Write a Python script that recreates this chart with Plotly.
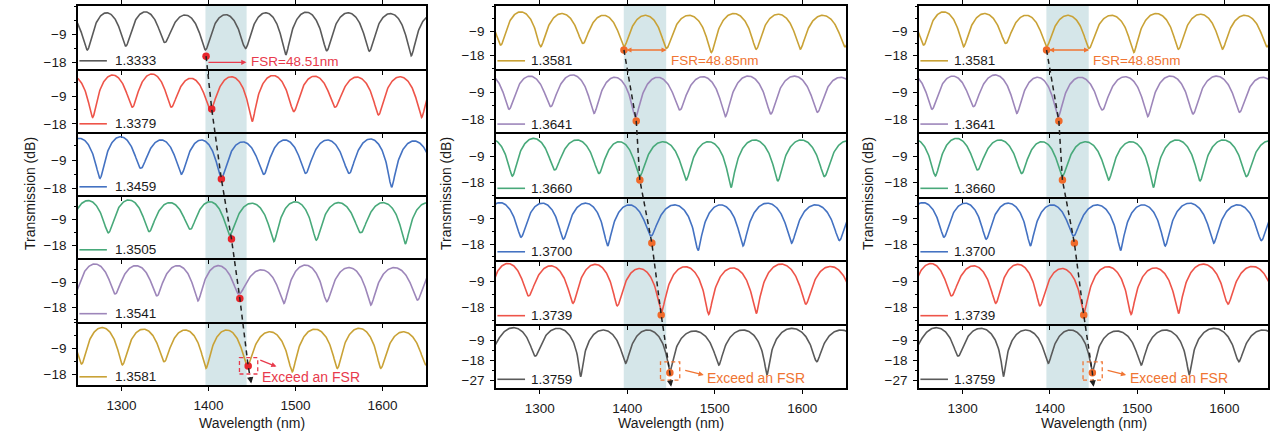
import numpy as np
import plotly.graph_objects as go

W, H = 1280, 444
FONT = "Liberation Sans, Arial, Helvetica, sans-serif"

# ---------------- data ----------------
wl_range = [1250, 1650]
x_ticks = [1300, 1400, 1500, 1600]

# Panel 1 (left)
p1_labels = ["1.3333", "1.3379", "1.3459", "1.3505", "1.3541", "1.3581"]
p1_dip_wl = [
    [1214, 1260.8, 1305, 1349.6, 1396.5, 1442.6, 1488.8, 1536, 1584.9, 1633, 1680],
    [1220, 1266.9, 1312.6, 1357.2, 1402.2, 1450.2, 1498.2, 1545.5, 1595.4, 1645, 1693],
    [1228, 1275.4, 1322.2, 1368.7, 1414.8, 1463.6, 1511.7, 1561.6, 1610.4, 1662],
    [1238, 1285, 1331.8, 1379.1, 1424.1, 1475.2, 1524, 1575, 1626.2, 1676],
    [1246, 1292.7, 1340.7, 1387.9, 1434.8, 1486.7, 1535.9, 1586.6, 1640.4, 1690],
    [1207, 1254.2, 1301.1, 1349.1, 1397.2, 1444.4, 1496.3, 1548.2, 1598.1, 1650, 1700],
]
p1_dip_db = [
    [-14, -14.0, -12.75, -11.6, -14.0, -13.5, -15.6, -14.25, -14.4, -15.9, -14],
    [-14, -15.9, -12.6, -12.6, -13.5, -17.25, -14.0, -12.6, -15.1, -15.9, -14],
    [-14, -14.75, -11.6, -13.5, -14.75, -13.5, -13.2, -13.2, -17.6, -14],
    [-14, -13.6, -13.2, -12.4, -14.4, -16.6, -16.1, -13.6, -17.4, -14],
    [-13.5, -13.2, -13.9, -15.7, -13.2, -16.6, -16.0, -17.2, -15.4, -14],
    [-14, -14.5, -14.8, -13.7, -16.0, -15.4, -17.2, -16.0, -16.0, -14.8, -14],
]
p1_peak_db = [
    [-2.5, -2.0, -1.7, -2.7, -2.6, -2.0, -1.8, -2.0, -2.25, -2.8],
    [-2.6, -2.25, -1.9, -3.3, -2.8, -2.4, -2.6, -2.9, -2.8, -2.5],
    [-2.2, -1.7, -2.7, -2.7, -3.3, -2.7, -2.7, -2.4, -3.0],
    [-2.6, -2.4, -3.3, -3.0, -3.5, -3.0, -3.3, -3.3, -3.4],
    [-2.4, -3.0, -3.0, -3.0, -4.5, -2.8, -3.7, -3.7, -3.5],
    [-2.5, -1.75, -2.3, -2.6, -2.6, -3.2, -2.3, -2.0, -3.2, -2.5],
]
p1_dot_wl = [1397.2, 1403.7, 1414.8, 1426.4, 1436.0, 1445.6]
p1_dot_db = [-16.0, -13.2, -15.0, -15.7, -14.8, -15.2]
p1_fsr_text = "FSR=48.51nm"

# Panels 2 and 3 (same spectra)
p2_labels = ["1.3581", "1.3641", "1.3660", "1.3700", "1.3739", "1.3759"]
p2_dip_wl = [
    [1207, 1255.5, 1301.1, 1349.4, 1396.2, 1444.9, 1496.2, 1547.5, 1597.7, 1649, 1700],
    [1218, 1265, 1312.5, 1362, 1409.5, 1460.1, 1512.2, 1564.2, 1617.5, 1670],
    [1221, 1268.8, 1317.1, 1367.7, 1414.1, 1467.3, 1518.6, 1572.2, 1625.5, 1678],
    [1230, 1278.7, 1327, 1377.6, 1427, 1481, 1532.3, 1587.8, 1642.6, 1697],
    [1240, 1287.1, 1338, 1388.6, 1439.2, 1493.1, 1547.5, 1604.2, 1660],
    [1245, 1294.7, 1346.8, 1398.1, 1448.7, 1504.6, 1559.7, 1616.7, 1672],
]
p2_dip_db = [
    [-14, -14.1, -14.7, -13.5, -14.7, -15.3, -16.8, -15.6, -15.6, -14.7, -14],
    [-14, -14.6, -13.7, -16.0, -17.3, -14.85, -17.1, -16.2, -15.6, -14],
    [-14, -15.7, -13.6, -14.8, -15.9, -17.1, -19.7, -17.4, -15.9, -14],
    [-14, -15.5, -16.2, -18.6, -15.0, -20.25, -18.6, -17.6, -16.7, -15],
    [-14, -14.1, -16.6, -17.5, -19.5, -20.4, -20.1, -16.9, -15],
    [-13, -16.2, -25.5, -19.5, -23.25, -20.25, -24.75, -18.75, -16],
]
p2_peak_db = [
    [-2.5, -1.95, -2.55, -3.2, -3.2, -3.2, -2.55, -2.8, -3.2, -2.5],
    [-3.0, -3.4, -3.0, -3.8, -3.8, -3.6, -3.4, -3.4, -3.8],
    [-3.0, -2.65, -3.2, -3.8, -3.8, -3.8, -3.2, -3.2, -3.5],
    [-3.2, -3.4, -3.4, -4.0, -4.0, -4.0, -3.4, -4.0, -3.6],
    [-3.0, -3.8, -3.3, -4.7, -4.1, -4.5, -3.2, -4.0],
    [-3.45, -3.75, -4.5, -4.5, -4.95, -4.5, -3.75, -4.5],
]
p2_dot_wl = [1396.2, 1410.3, 1414.4, 1428.1, 1438.8, 1448.7]
p2_dot_db = [-15.9, -18.6, -17.1, -17.6, -20.6, -23.7]
p2_fsr_text = "FSR=48.85nm"

exceed_text = "Exceed an FSR"
band_wl = [[1396.5, 1443.8], [1396, 1444.5], [1396, 1444.5]]

# ---------------- styles / layout geometry ----------------
GRAY, RED, BLUE, GREEN, PURPLE, GOLD = "#5a5a5a", "#ee5449", "#4472c2", "#48a97a", "#9d86ba", "#c9a236"
p1_colors = [GRAY, RED, BLUE, GREEN, PURPLE, GOLD]
p2_colors = [GOLD, PURPLE, GREEN, BLUE, RED, GRAY]
ANN1, DOT1 = "#e83a4c", "#e8262c"
ANN2, DOT2 = "#f07533", "#f06a2a"
BAND = "#d5e6e9"

panel_x = [(78, 426), (496, 846), (919, 1268)]
bounds1 = [6, 69, 132, 195, 258, 322, 385]
bounds2 = [6, 69, 132.3, 196.7, 260, 324, 388.3]
ranges1 = [[-20.15, 0.2], [-20.6, -0.3], [-20.0, -0.2], [-22.2, -0.7], [-23.3, -0.25], [-21.85, 0.2]]
ranges2 = [[-22.85, 0.2], [-22.4, -1.0], [-22.85, -0.55], [-23.6, -1.1], [-23.7, -1.8], [-30.7, -1.8]]
ytitle_x = [30, 446, 868]

panels = [
    dict(labels=p1_labels, dwl=p1_dip_wl, ddb=p1_dip_db, pdb=p1_peak_db, colors=p1_colors,
         dot_wl=p1_dot_wl, dot_db=p1_dot_db, fsr=p1_fsr_text, ann=ANN1, dot=DOT1,
         bounds=bounds1, ranges=ranges1, both_arrows=False, leg_text_x=0.1),
    dict(labels=p2_labels, dwl=p2_dip_wl, ddb=p2_dip_db, pdb=p2_peak_db, colors=p2_colors,
         dot_wl=p2_dot_wl, dot_db=p2_dot_db, fsr=p2_fsr_text, ann=ANN2, dot=DOT2,
         bounds=bounds2, ranges=ranges2, both_arrows=True, leg_text_x=0.094),
    dict(labels=p2_labels, dwl=p2_dip_wl, ddb=p2_dip_db, pdb=p2_peak_db, colors=p2_colors,
         dot_wl=p2_dot_wl, dot_db=p2_dot_db, fsr=p2_fsr_text, ann=ANN2, dot=DOT2,
         bounds=bounds2, ranges=ranges2, both_arrows=True, leg_text_x=0.094),
]


def spectrum(dwl, ddb, pdb, n=80):
    xs, ys = [], []
    for i in range(len(dwl) - 1):
        t = np.linspace(0, 1, n, endpoint=False)
        base = ddb[i] * (1 - t) + ddb[i + 1] * t
        depth = pdb[i] - base
        r = 10 ** (-depth / 10)
        v = (1 - r) / (1 + r)
        phi = 2 * np.pi * (t - 0.5)
        y = pdb[i] + 10 * np.log10((1 + v * np.cos(phi)) / (1 + v))
        xs.append(dwl[i] + t * (dwl[i + 1] - dwl[i]))
        ys.append(y)
    xs.append([dwl[-1]])
    ys.append([ddb[-1]])
    return np.concatenate(xs), np.concatenate(ys)


def paper_y(top, bot, rng, v):
    frac = (v - rng[0]) / (rng[1] - rng[0])
    return 1 - (bot - frac * (bot - top)) / H


def ax_id(letter, i):
    return letter if i == 1 else f"{letter}{i}"


fig = go.Figure()
layout = dict(width=W, height=H, margin=dict(l=0, r=0, t=0, b=0),
              paper_bgcolor="white", plot_bgcolor="rgba(0,0,0,0)",
              showlegend=False, font=dict(family=FONT, size=13, color="#1a1a1a"))
shapes, annotations = [], []

for p, P in enumerate(panels):
    xl, xr = panel_x[p]
    b = P["bounds"]
    for k in range(6):
        idx = p * 6 + k + 1
        xa, ya = ax_id("x", idx), ax_id("y", idx)
        top, bot = b[k], b[k + 1]
        rng = P["ranges"][k]
        xs, ys = spectrum(P["dwl"][k], P["ddb"][k], P["pdb"][k])
        fig.add_trace(go.Scatter(x=xs, y=ys, mode="lines", xaxis=xa, yaxis=ya,
                                 line=dict(color=P["colors"][k], width=1.6), hoverinfo="skip"))
        fig.add_trace(go.Scatter(x=[P["dot_wl"][k]], y=[P["dot_db"][k]], mode="markers",
                                 xaxis=xa, yaxis=ya, marker=dict(color=P["dot"], size=7.5),
                                 hoverinfo="skip"))
        last = k == 5
        layout[f"xaxis{idx}"] = dict(
            domain=[xl / W, xr / W], range=wl_range, anchor=ya, tickvals=x_ticks,
            showticklabels=last, ticks="outside", ticklen=4, tickwidth=1.2, tickcolor="black",
            showline=True, linecolor="black", linewidth=1.6,
            mirror=("ticks" if k == 0 else False),
            showgrid=False, zeroline=False, tickfont=dict(size=13.5), ticklabelstandoff=3)
        yt = [-9, -18, -27] if (p > 0 and last) else [-9, -18]
        layout[f"yaxis{idx}"] = dict(
            domain=[1 - bot / H, 1 - top / H], range=rng, anchor=xa,
            tickvals=yt, ticktext=["\u2212" + str(-v) for v in yt],
            ticks="outside", ticklen=4, tickwidth=1.2, tickcolor="black",
            minor=dict(dtick=4.5, tick0=0, ticks="outside", ticklen=2.5, tickcolor="black"),
            showline=True, linecolor="black", linewidth=1.6, mirror=True,
            showgrid=False, zeroline=False, tickfont=dict(size=13.5), ticklabelstandoff=3)
        # shaded FSR band
        shapes.append(dict(type="rect", xref=xa, yref=f"{ya} domain",
                           x0=band_wl[p][0], x1=band_wl[p][1], y0=0, y1=1,
                           fillcolor=BAND, line=dict(width=0), layer="below"))
        # legend sample
        ly = 0.14 if (p > 0 and last) else 0.13
        shapes.append(dict(type="line", xref=f"{xa} domain", yref=f"{ya} domain",
                           x0=0.004, x1=0.083, y0=ly, y1=ly,
                           line=dict(color=P["colors"][k], width=1.6)))
        annotations.append(dict(xref=f"{xa} domain", yref=f"{ya} domain", x=P["leg_text_x"], y=ly,
                                text=P["labels"][k], showarrow=False, xanchor="left",
                                yanchor="middle", font=dict(size=13.5, color="#1a1a1a")))

    # FSR arrow in first subplot
    i1 = p * 6 + 1
    x1a, y1a = ax_id("x", i1), ax_id("y", i1)
    fsr_y = -18.0 if p == 0 else -15.9
    fsr_x0 = P["dot_wl"][0]
    fsr_x1 = fsr_x0 + (46.4 if p == 0 else 48.85)
    annotations.append(dict(xref=x1a, yref=y1a, axref=x1a, ayref=y1a,
                            x=fsr_x1, y=fsr_y, ax=fsr_x0 + 1, ay=fsr_y, text="", showarrow=True,
                            arrowhead=2, arrowsize=0.8, arrowwidth=1.3, arrowcolor=P["ann"],
                            arrowside="end+start" if P["both_arrows"] else "end"))
    annotations.append(dict(xref=x1a, yref=y1a, x=fsr_x1 + 2.5,
                            y=-17.6 if p == 0 else -19.8, text=P["fsr"], showarrow=False,
                            xanchor="left", yanchor="middle", font=dict(size=13.5, color=P["ann"])))

    # Exceed an FSR box, arrow, text in last subplot
    i6 = p * 6 + 6
    x6a, y6a = ax_id("x", i6), ax_id("y", i6)
    dw, dd = P["dot_wl"][5], P["dot_db"][5]
    if p == 0:
        box = (dw - 10, dw + 11, dd - 2.8, dd + 2.9)
        arr = (box[1] + 1.2, dd + 2.3, box[1] + 21.5, dd - 0.2)
        txt = (box[1] + 2.5, dd - 3.7)
    else:
        box = (dw - 10.7, dw + 11.3, dd - 3.3, dd + 4.9)
        arr = (box[1] + 4.5, dd + 1.2, box[1] + 27.4, dd - 1.05)
        txt = (box[1] + 29.3, dd - 2.5)
    shapes.append(dict(type="rect", xref=x6a, yref=y6a, x0=box[0], x1=box[1],
                       y0=box[2], y1=box[3], line=dict(color=P["ann"], width=1.3, dash="4px,3px")))
    annotations.append(dict(xref=x6a, yref=y6a, axref=x6a, ayref=y6a,
                            x=arr[2], y=arr[3], ax=arr[0], ay=arr[1], text="", showarrow=True,
                            arrowhead=2, arrowsize=0.8, arrowwidth=1.3, arrowcolor=P["ann"]))
    annotations.append(dict(xref=x6a, yref=y6a, x=txt[0], y=txt[1], text=exceed_text,
                            showarrow=False, xanchor="left", yanchor="middle",
                            font=dict(size=14, color=P["ann"])))

    # overlay axes (paper-like y) for the dashed trend line across subplots
    oi = 19 + p
    ytop, ybot = 1 - b[0] / H, 1 - b[6] / H
    layout[f"xaxis{oi}"] = dict(domain=[xl / W, xr / W], range=wl_range, anchor=f"y{oi}",
                                visible=False, fixedrange=True)
    layout[f"yaxis{oi}"] = dict(domain=[ybot, ytop], range=[ybot, ytop], anchor=f"x{oi}",
                                visible=False, fixedrange=True)
    lx = list(P["dot_wl"])
    ly_ = [paper_y(b[k], b[k + 1], P["ranges"][k], P["dot_db"][k]) for k in range(6)]
    end_x = P["dot_wl"][5] + (3.5 if p == 0 else 1.5)
    end_y = 1 - (b[6] - 1.5) / H
    fig.add_trace(go.Scatter(x=lx + [end_x], y=ly_ + [end_y], mode="lines",
                             xaxis=f"x{oi}", yaxis=f"y{oi}",
                             line=dict(color="#222", width=1.5, dash="5px,4px"), hoverinfo="skip"))
    annotations.append(dict(xref=f"x{oi}", yref=f"y{oi}", x=end_x, y=end_y, ax=-1, ay=-6,
                            text="", showarrow=True, arrowhead=2, arrowsize=0.9,
                            arrowwidth=1.4, arrowcolor="#222"))

    # axis titles
    annotations.append(dict(xref="paper", yref="paper", x=ytitle_x[p] / W, y=1 - 194 / H,
                            text="Transmission (dB)", textangle=-90, showarrow=False,
                            xanchor="center", yanchor="middle", font=dict(size=14, color="#1a1a1a")))
    annotations.append(dict(xref="paper", yref="paper", x=(xl + xr) / 2 / W, y=1 - 423 / H,
                            text="Wavelength (nm)", showarrow=False, xanchor="center",
                            yanchor="middle", font=dict(size=14, color="#1a1a1a")))

layout["shapes"] = shapes
layout["annotations"] = annotations
fig.update_layout(**layout)
fig.write_html("out.html")
